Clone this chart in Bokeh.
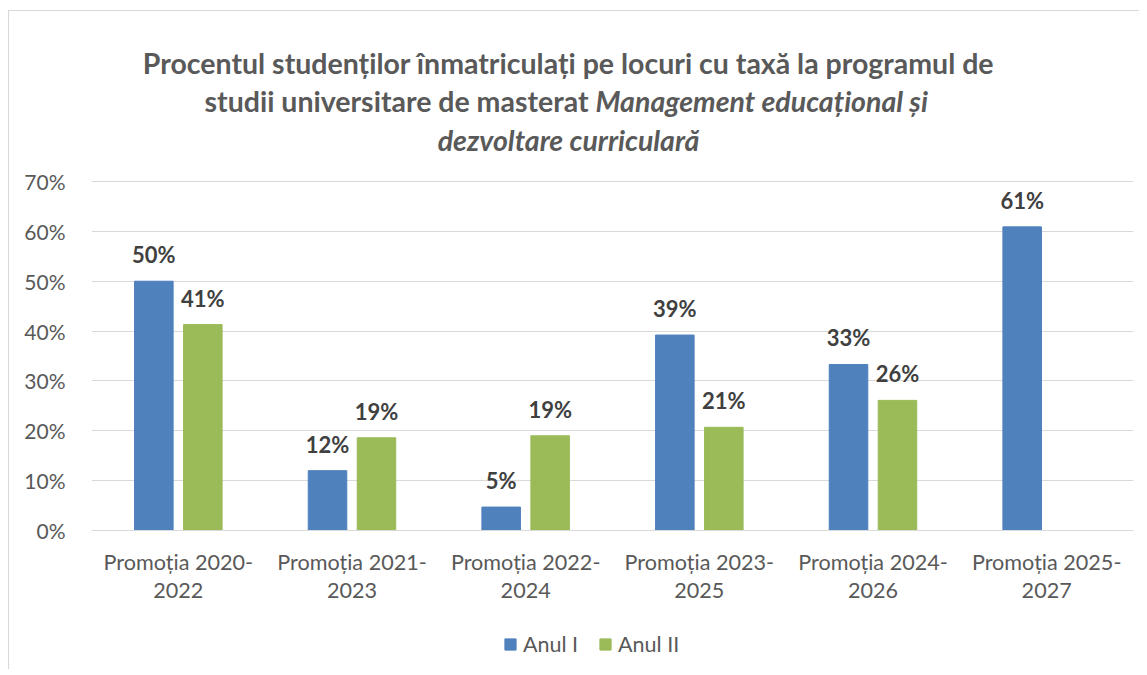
from bokeh.plotting import figure
from bokeh.models import ColumnDataSource, Range1d, FixedTicker, Label, LabelSet, Legend, LegendItem
from bokeh.core.properties import value
from bokeh.transform import dodge
from bokeh.embed import file_html
from bokeh.resources import INLINE

# ---- data ----
categories = ["Promoția 2020-\n2022", "Promoția 2021-\n2023", "Promoția 2022-\n2024",
              "Promoția 2023-\n2025", "Promoția 2024-\n2026", "Promoția 2025-\n2027"]
anul_1 = [50.0, 12.0, 4.7, 39.2, 33.3, 60.9]
anul_2 = [41.3, 18.6, 19.0, 20.7, 26.1, None]
series_names = ["Anul I", "Anul II"]
y_ticks = [0, 10, 20, 30, 40, 50, 60, 70]
y_tick_labels = [f"{t}%" for t in y_ticks]
title_line1 = "Procentul studenților înmatriculați pe locuri cu taxă la programul de"
title_line2a = "studii universitare de masterat"
title_line2b = "Management educațional și"
title_line3 = "dezvoltare curriculară"

# ---- styling ----
FONT = "Lato"
BLUE = "#4f81bd"
GREEN = "#9bbb59"
GREY_TXT = "#595959"
DARK_TXT = "#404040"
GRID = "#d9d9d9"

# page-pixel geometry of the figure / plot area
PAGE_X0, PAGE_Y0 = 8, 10          # where the figure starts on the page
FL, FR, FT70, FB = 90, 1132, 180, 529   # plot area (FT70 = y of the 70% line, FB = 0% line)
FIG_W, FIG_H = 1131, 659
PAGE_YEND = PAGE_Y0 + FIG_H
NCAT = len(categories)
YMAX = 70


def xd(px):
    return (px - FL) / (FR - FL) * NCAT


def yd(py):
    return (FB - py) / (FB - FT70) * YMAX


xpos = [i + 0.5 for i in range(NCAT)]

p = figure(width=FIG_W, height=FIG_H, output_backend="svg", toolbar_location=None,
           x_range=Range1d(0, NCAT), y_range=Range1d(yd(PAGE_YEND), yd(PAGE_Y0)),
           min_border_left=FL - PAGE_X0, min_border_right=PAGE_X0 + FIG_W - FR,
           min_border_top=0, min_border_bottom=0,
           background_fill_color="white", border_fill_color="white")
p.outline_line_color = None
p.styles = {"margin-left": f"{PAGE_X0}px", "margin-top": f"{PAGE_Y0}px",
            "border-left": "1px solid #d9d9d9", "border-top": "1px solid #d9d9d9"}

off = 0.141
bw = 0.222

src1 = ColumnDataSource(dict(x=xpos, top=anul_1, lab=[f"{round(v)}%" for v in anul_1]))
x2 = [x for x, v in zip(xpos, anul_2) if v is not None]
v2 = [v for v in anul_2 if v is not None]
src2 = ColumnDataSource(dict(x=x2, top=v2, lab=[f"{round(v)}%" for v in v2]))

r1 = p.vbar(x=dodge("x", -off), top="top", width=bw, bottom=0, source=src1,
            fill_color=BLUE, line_color=BLUE)
r2 = p.vbar(x=dodge("x", off), top="top", width=bw, bottom=0, source=src2,
            fill_color=GREEN, line_color=GREEN)

for src, dx in ((src1, -off), (src2, off)):
    ls = LabelSet(x=dodge("x", dx), y="top", text="lab", source=src, text_align="center",
                  text_baseline="alphabetic", y_offset=18, text_font=value(FONT),
                  text_font_size=value("22px"), text_font_style="bold", text_color=DARK_TXT)
    p.add_layout(ls)

# axes
p.yaxis.ticker = FixedTicker(ticks=y_ticks)
p.yaxis.major_label_overrides = {t: l for t, l in zip(y_ticks, y_tick_labels)}
p.yaxis.axis_line_color = None
p.yaxis.major_tick_line_color = None
p.yaxis.minor_tick_line_color = None
p.yaxis.major_label_text_font = FONT
p.yaxis.major_label_text_font_size = "21px"
p.yaxis.major_label_text_color = GREY_TXT
p.yaxis.major_label_standoff = 20

p.xaxis.fixed_location = 0
p.xaxis.ticker = FixedTicker(ticks=xpos)
p.xaxis.major_label_overrides = {x: c for x, c in zip(xpos, categories)}
p.xaxis.axis_line_color = GRID
p.xaxis.axis_line_width = 1
p.xaxis.major_tick_line_color = None
p.xaxis.minor_tick_line_color = None
p.xaxis.major_label_text_font = FONT
p.xaxis.major_label_text_font_size = "21.6px"
p.xaxis.major_label_text_color = GREY_TXT
p.xaxis.major_label_text_line_height = 1.08
p.xaxis.major_label_standoff = 12

p.xgrid.grid_line_color = None
p.ygrid.grid_line_color = GRID
p.ygrid.grid_line_width = 1

# legend
legend = Legend(items=[LegendItem(label=series_names[0], renderers=[r1]),
                       LegendItem(label=series_names[1], renderers=[r2])],
                orientation="horizontal", location=(412, 13),
                glyph_width=14, glyph_height=14, label_standoff=6, spacing=20,
                padding=0, margin=0, border_line_color=None, background_fill_alpha=0,
                label_text_font=FONT, label_text_font_size="21.5px", label_text_color=GREY_TXT)
p.add_layout(legend, "center")

# title (three lines, mixed styles)
tkw = dict(text_font=FONT, text_font_size="28.5px", text_color=GREY_TXT, text_baseline="alphabetic")
p.add_layout(Label(x=xd(567), y=yd(61), text=title_line1, text_align="center",
                   text_font_style="bold", **tkw))
p.add_layout(Label(x=xd(587), y=yd(99.5), text=title_line2a, text_align="right",
                   text_font_style="bold", **tkw))
p.add_layout(Label(x=xd(594), y=yd(99.5), text=title_line2b, text_align="left",
                   text_font_style="bold italic", **tkw))
p.add_layout(Label(x=xd(567), y=yd(138), text=title_line3, text_align="center",
                   text_font_style="bold italic", **tkw))

open("out.html", "w").write(file_html(p, INLINE))
